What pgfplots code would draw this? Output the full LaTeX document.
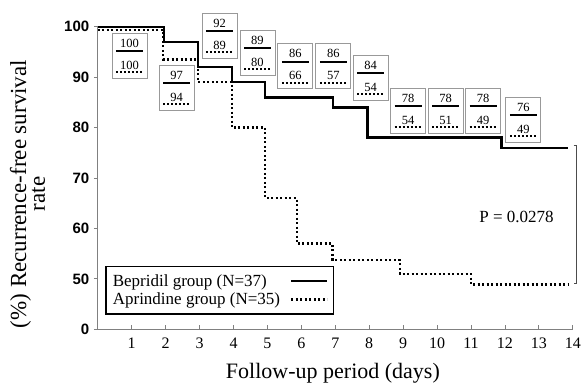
\documentclass[border=0pt]{standalone}
\usepackage{pgfplots}
\pgfplotsset{compat=1.18}
\usepackage{fontspec}
\setmainfont{Liberation Serif}
\newfontfamily\ysans{Liberation Sans}
\definecolor{axgray}{gray}{0.5}
\definecolor{boxgray}{gray}{0.6}
\newcommand\riskbox[4]{%
 \draw[draw=boxgray, line width=0.8pt] (axis cs:#1,#2) ++(-17.5pt,-22.5pt) rectangle ++(35pt,45pt);
 \path (axis cs:#1,#2) ++(0pt,12.5pt) node[font=\fontsize{12.5}{12.5}\selectfont, inner sep=0pt] {#3};
 \draw[line width=2pt] (axis cs:#1,#2) ++(-13.5pt,4.5pt) -- ++(27pt,0pt);
 \path (axis cs:#1,#2) ++(0pt,-9.5pt) node[font=\fontsize{12.5}{12.5}\selectfont, inner sep=0pt] {#4};
 \draw[line width=2pt, dash pattern=on 1.8pt off 2.2pt] (axis cs:#1,#2) ++(-13.5pt,-16.5pt) -- ++(27pt,0pt);
}
\begin{document}
\begin{tikzpicture}
\path[use as bounding box] (-97.8pt,-54.7pt) rectangle (484.2pt,329.3pt);
\begin{axis}[
 at={(0,0)}, anchor=south west,
 scale only axis, width=475pt, height=302.6pt,
 xmin=0, xmax=14, ymin=40, ymax=100,
 axis x line=bottom, axis y line=left,
 axis line style={draw=axgray, line width=0.8pt, -},
 clip=false,
 /pgf/number format/assume math mode=true,
 xtick={1,2,3,4,5,6,7,8,9,10,11,12,13,14},
 xticklabels={1,2,3,4,5,6,7,8,9,10,11,12,13,14},
 ytick={40,50,60,70,80,90,100},
 yticklabels={0,50,60,70,80,90,100},
 tick align=inside,
 major tick length=4pt,
 xtick style={draw=axgray, line width=0.8pt},
 ytick style={draw=axgray, line width=0.8pt, xshift=-4pt},
 xticklabel style={font=\fontsize{16}{16}\selectfont, anchor=base, yshift=-19pt},
 yticklabel style={font=\ysans\bfseries\fontsize{15}{15}\selectfont, anchor=east, xshift=-5pt},
 xlabel={Follow-up period (days)},
 xlabel style={font=\fontsize{22}{22}\selectfont, at={(axis description cs:0.495,-0.1642)}, anchor=base},
 ylabel={(\%) Recurrence-free survival\\rate},
 ylabel style={font=\fontsize{23}{17}\selectfont, align=center, at={(axis description cs:-0.1112,0.4471)}, anchor=base},
 legend style={at={(axis description cs:0.0152,0.0473)}, anchor=south west, draw=black, line width=1.6pt,
   font=\fontsize{17}{19}\selectfont, inner xsep=5pt, inner ysep=6pt, row sep=1pt, column sep=8pt},
 legend cell align=left, legend plot pos=right,
 legend image code/.code={\draw[#1] (0pt,0pt) -- (36pt,0pt);},
]
\addplot[const plot, black, line width=2.4pt, line join=miter] coordinates {
 (0,100) (1.95,97) (2.96,92) (3.96,89) (4.93,86) (6.93,84) (7.95,78) (11.9,76) (13.87,76)};
\addplot[const plot, black, line width=2.3pt, dash pattern=on 2pt off 2.5pt] coordinates {
 (0,99.4) (1.93,93.5) (2.96,89) (3.95,80) (4.93,66) (5.87,57) (6.92,53.7) (8.9,51) (11.0,48.9) (13.87,48.9)};
\legend{Bepridil group (N=37), Aprindine group (N=35)}
\riskbox{0.934}{94.3}{100}{100}
\riskbox{2.32}{87.95}{97}{94}
\riskbox{3.587}{98.26}{92}{89}
\riskbox{4.707}{94.79}{89}{80}
\riskbox{5.82}{92.17}{86}{66}
\riskbox{6.94}{92.17}{86}{57}
\riskbox{8.04}{89.93}{84}{54}
\riskbox{9.15}{83.39}{78}{54}
\riskbox{10.25}{83.39}{78}{51}
\riskbox{11.36}{83.39}{78}{49}
\riskbox{12.54}{81.6}{76}{49}
\node[font=\fontsize{17}{17}\selectfont] at (axis cs:12.34,62.27) {P = 0.0278};
\draw[draw=black!70, line width=0.8pt] (axis cs:14.11,76.5) ++(-3pt,0pt) -- ++(3pt,0pt) -- (axis cs:14.11,49.2) -- ++(-3pt,0pt);
\end{axis}
\end{tikzpicture}
\end{document}
